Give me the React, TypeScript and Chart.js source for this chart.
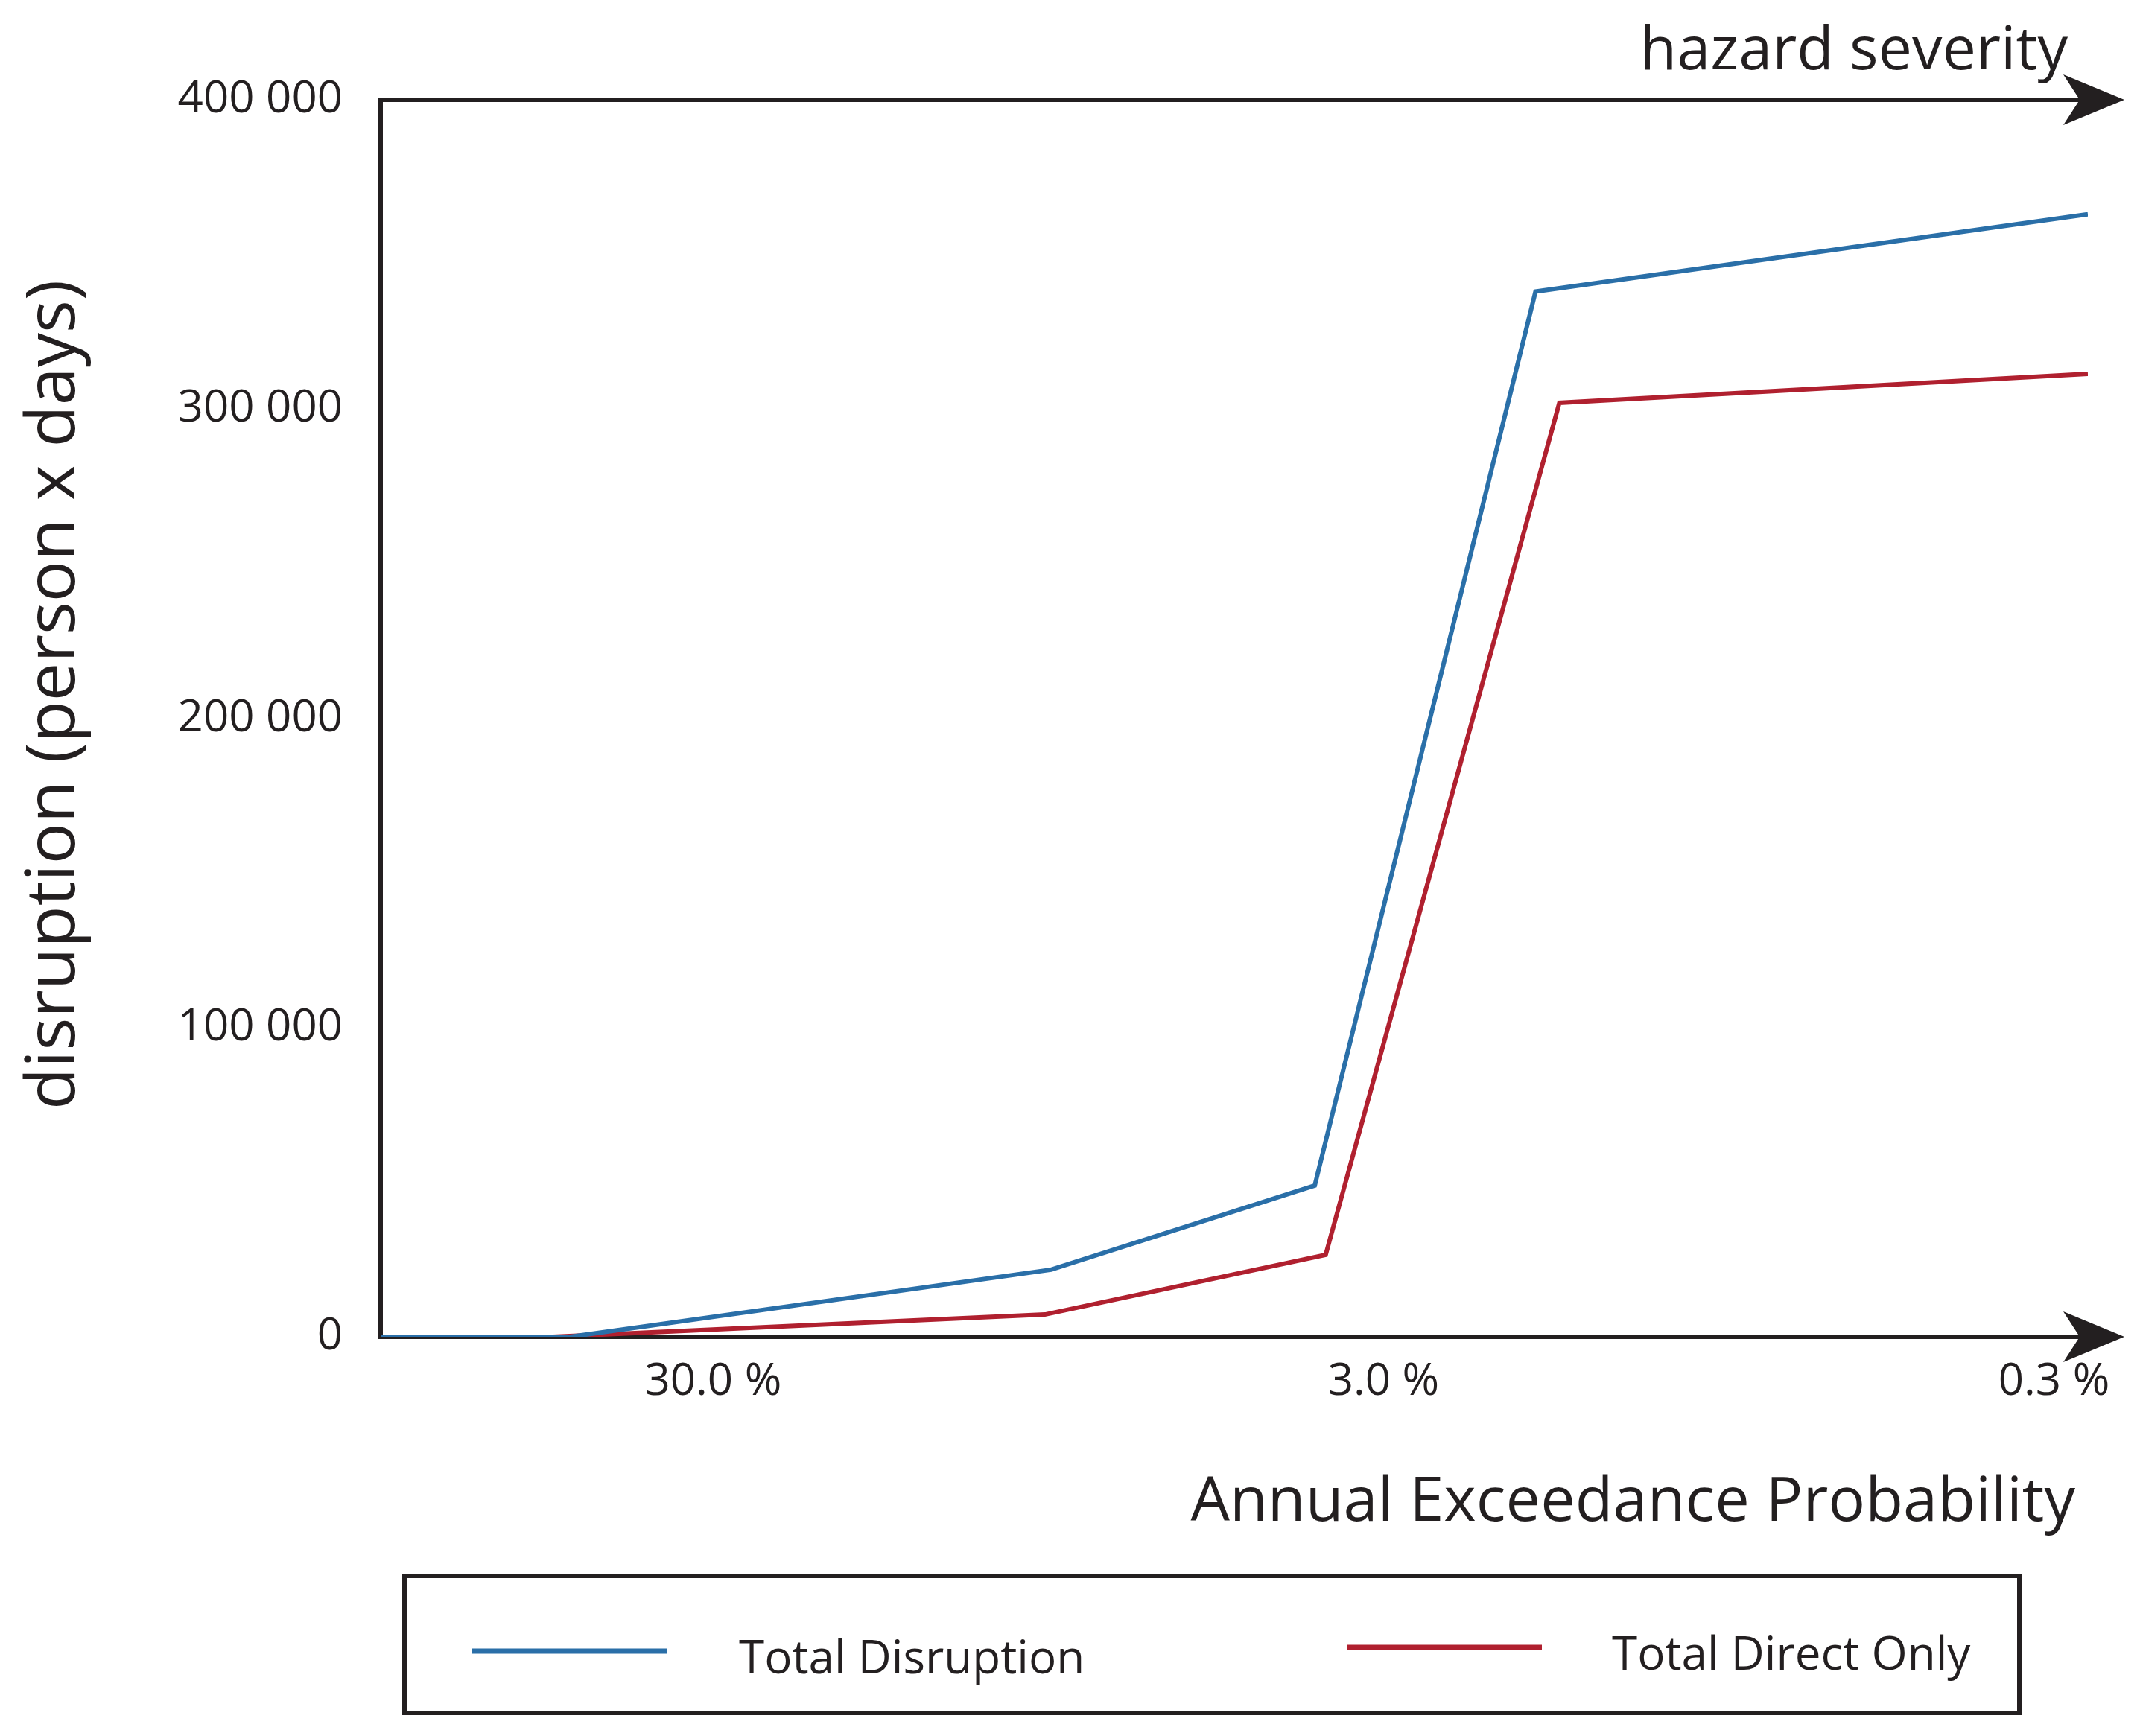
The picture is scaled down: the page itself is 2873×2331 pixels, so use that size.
import React, { useEffect, useRef } from 'react';
import { Chart, registerables } from 'chart.js';

Chart.register(...registerables);

// annual exceedance probability (%) read per series, and disruption (person x days)
const probTotal = [94, 49, 9.4, 3.8, 1.78, 0.267];
const totalDisruption = [0, 0, 21700, 48900, 338000, 363000];
const probDirect = [94, 52, 9.6, 3.66, 1.64, 0.267];
const totalDirectOnly = [0, 0, 7200, 26500, 302000, 311400];

const xTickValues = [30, 3, 0.3];
const yTickValues = [0, 100000, 200000, 300000, 400000];

const seriesNames = ['Total Disruption', 'Total Direct Only'];
const seriesColors = ['#2a6fa8', '#b0202f'];

const INK = '#231f20';
const FONT = '"Open Sans", sans-serif';

const toPoints = (xs: number[], ys: number[]) => xs.map((x, i) => ({ x, y: ys[i] }));

// axes with arrow heads, free text and the framed legend
const decorPlugin = {
  id: 'decor',
  beforeDatasetsDraw(chart: any) {
    const { ctx, chartArea } = chart;
    const { left, top, bottom } = chartArea;
    const tipX = 2852;
    ctx.save();
    ctx.strokeStyle = INK;
    ctx.fillStyle = INK;
    ctx.lineWidth = 6;
    ctx.lineCap = 'square';
    ctx.beginPath();
    ctx.moveTo(left, top);
    ctx.lineTo(left, bottom);
    ctx.moveTo(left, top);
    ctx.lineTo(2795, top);
    ctx.moveTo(left, bottom);
    ctx.lineTo(2795, bottom);
    ctx.stroke();
    [top, bottom].forEach((y) => {
      ctx.beginPath();
      ctx.moveTo(tipX, y);
      ctx.lineTo(2770, y - 34);
      ctx.lineTo(2792, y);
      ctx.lineTo(2770, y + 34);
      ctx.closePath();
      ctx.fill();
    });
    ctx.restore();
  },
  afterDraw(chart: any) {
    const { ctx } = chart;
    ctx.save();
    ctx.fillStyle = INK;
    ctx.textBaseline = 'alphabetic';

    ctx.font = `81px ${FONT}`;
    ctx.textAlign = 'right';
    ctx.fillText('hazard severity', 2776, 93);

    ctx.font = `83px ${FONT}`;
    ctx.fillText('Annual Exceedance Probability', 2786, 2042);

    ctx.save();
    ctx.translate(100, 933);
    ctx.rotate(-Math.PI / 2);
    ctx.textAlign = 'center';
    ctx.font = `92px ${FONT}`;
    ctx.fillText('disruption (person x days)', 0, 0);
    ctx.restore();

    // legend frame
    ctx.strokeStyle = INK;
    ctx.lineWidth = 6;
    ctx.strokeRect(543, 2116, 2168, 184);

    const items = [
      { x0: 633, x1: 896, y: 2217, tx: 992, ty: 2247 },
      { x0: 1809, x1: 2070, y: 2212, tx: 2164, ty: 2242 },
    ];
    chart.data.datasets.forEach((ds: any, i: number) => {
      const it = items[i];
      ctx.strokeStyle = ds.borderColor;
      ctx.lineWidth = 7;
      ctx.lineCap = 'butt';
      ctx.beginPath();
      ctx.moveTo(it.x0, it.y);
      ctx.lineTo(it.x1, it.y);
      ctx.stroke();
      ctx.font = `62px ${FONT}`;
      ctx.textAlign = 'left';
      ctx.fillStyle = INK;
      ctx.fillText(ds.label, it.tx, it.ty);
    });
    ctx.restore();
  },
};

export default function App() {
  const canvasRef = useRef<HTMLCanvasElement>(null);
  const chartRef = useRef<Chart | null>(null);

  useEffect(() => {
    document.body.style.margin = '0';
    if (!canvasRef.current) return;
    if (chartRef.current) chartRef.current.destroy();

    chartRef.current = new Chart(canvasRef.current, {
      type: 'line',
      data: {
        datasets: [
          {
            label: seriesNames[0],
            data: toPoints(probTotal, totalDisruption),
            borderColor: seriesColors[0],
          },
          {
            label: seriesNames[1],
            data: toPoints(probDirect, totalDirectOnly),
            borderColor: seriesColors[1],
          },
        ],
      },
      options: {
        responsive: false,
        animation: false,
        devicePixelRatio: 1,
        layout: { padding: { left: 0, top: 134, right: 70, bottom: 0 } },
        elements: {
          point: { radius: 0 },
          line: { borderWidth: 6, tension: 0, borderJoinStyle: 'miter', fill: false },
        },
        plugins: {
          legend: { display: false },
          tooltip: { enabled: false },
        },
        scales: {
          x: {
            type: 'logarithmic',
            reverse: true,
            min: 0.267,
            max: 94,
            grid: { display: false, drawTicks: false },
            border: { display: false },
            afterBuildTicks: (scale: any) => {
              scale.ticks = xTickValues.map((value) => ({ value }));
            },
            afterFit: (scale: any) => {
              scale.height = 2331 - 1795;
            },
            ticks: {
              autoSkip: false,
              maxRotation: 0,
              padding: 25,
              color: INK,
              font: { family: FONT, size: 60 },
              callback: (v: any) => `${Number(v).toFixed(1)} %`,
            },
          },
          y: {
            min: 0,
            max: 400000,
            grid: { display: false, drawTicks: false },
            border: { display: false },
            afterBuildTicks: (scale: any) => {
              scale.ticks = yTickValues.map((value) => ({ value }));
            },
            afterFit: (scale: any) => {
              scale.width = 511;
            },
            ticks: {
              padding: 51,
              color: INK,
              font: { family: FONT, size: 60 },
              callback: (v: any) => Number(v).toLocaleString('en-US').replace(/,/g, ' '),
            },
          },
        },
      },
      plugins: [decorPlugin],
    });

    return () => {
      if (chartRef.current) {
        chartRef.current.destroy();
        chartRef.current = null;
      }
    };
  }, []);

  return (
    <div style={{ width: 2873, height: 2331, background: '#fff' }}>
      <canvas ref={canvasRef} width={2873} height={2331} style={{ display: 'block' }} />
    </div>
  );
}
